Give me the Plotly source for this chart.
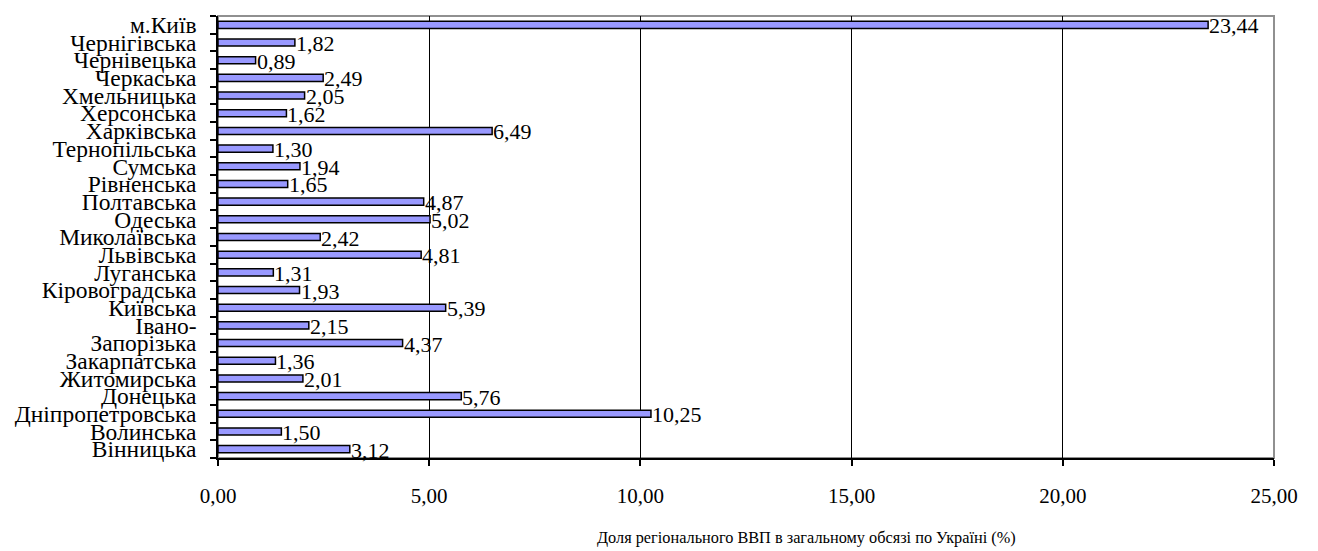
import plotly.graph_objects as go

regions = ["Вінницька", "Волинська", "Дніпропетровська", "Донецька", "Житомирська",
           "Закарпатська", "Запорізька", "Івано-", "Київська", "Кіровоградська",
           "Луганська", "Львівська", "Миколаївська", "Одеська", "Полтавська",
           "Рівненська", "Сумська", "Тернопільська", "Харківська", "Херсонська",
           "Хмельницька", "Черкаська", "Чернівецька", "Чернігівська", "м.Київ"]
shares = [3.12, 1.50, 10.25, 5.76, 2.01, 1.36, 4.37, 2.15, 5.39, 1.93,
          1.31, 4.81, 2.42, 5.02, 4.87, 1.65, 1.94, 1.30, 6.49, 1.62,
          2.05, 2.49, 0.89, 1.82, 23.44]
x_ticks = [0, 5, 10, 15, 20, 25]
x_title = "Доля регіонального ВВП в загальному обсязі по Україні (%)"

FONT = "Liberation Serif"

fig = go.Figure()
fig.add_trace(go.Bar(
    y=regions, x=shares, orientation="h", width=0.4,
    marker=dict(color="#9999FF", line=dict(color="black", width=1.5)),
    hoverinfo="x+y",
))

for r, v in zip(regions, shares):
    fig.add_annotation(x=v, y=r, text=f"{v:.2f}".replace(".", ","),
                       xanchor="left", yanchor="middle", showarrow=False,
                       xshift=-1, yshift=-1,
                       font=dict(family=FONT, size=22, color="black"))

# axis title, placed right of centre as in the original
fig.add_annotation(x=0.557, y=0, xref="paper", yref="paper", text=x_title,
                   xanchor="center", yanchor="middle", showarrow=False,
                   yshift=-79, font=dict(family=FONT, size=16.3, color="black"))

fig.update_layout(
    width=1310, height=543,
    margin=dict(l=210, r=44, t=4, b=93),
    paper_bgcolor="white", plot_bgcolor="white",
    separators=", ",
    showlegend=False,
    font=dict(family=FONT, color="black"),
    shapes=[dict(type="rect", xref="paper", yref="paper", x0=0, y0=0, x1=1, y1=1,
                 line=dict(color="#909090", width=2), layer="below")],
)
fig.update_xaxes(
    range=[0, 25], tickvals=x_ticks, tickformat=".2f",
    showgrid=True, gridcolor="black", gridwidth=1,
    showline=True, linecolor="black", linewidth=1.5,
    ticks="outside", ticklen=6, tickcolor="black", tickwidth=1.5,
    ticklabelstandoff=12,
    tickfont=dict(family=FONT, size=21, color="black"),
    zeroline=False,
)
fig.update_yaxes(
    categoryorder="array", categoryarray=regions,
    range=[-0.5, len(regions) - 0.5],
    tickmode="linear", tick0=0, dtick=1,
    tickson="boundaries",
    showline=True, linecolor="black", linewidth=1.5,
    ticks="outside", ticklen=6, tickcolor="black", tickwidth=1.5,
    ticklabelstandoff=15,
    tickfont=dict(family=FONT, size=23.5, color="black"),
    showgrid=False,
)

fig.write_html("out.html")
